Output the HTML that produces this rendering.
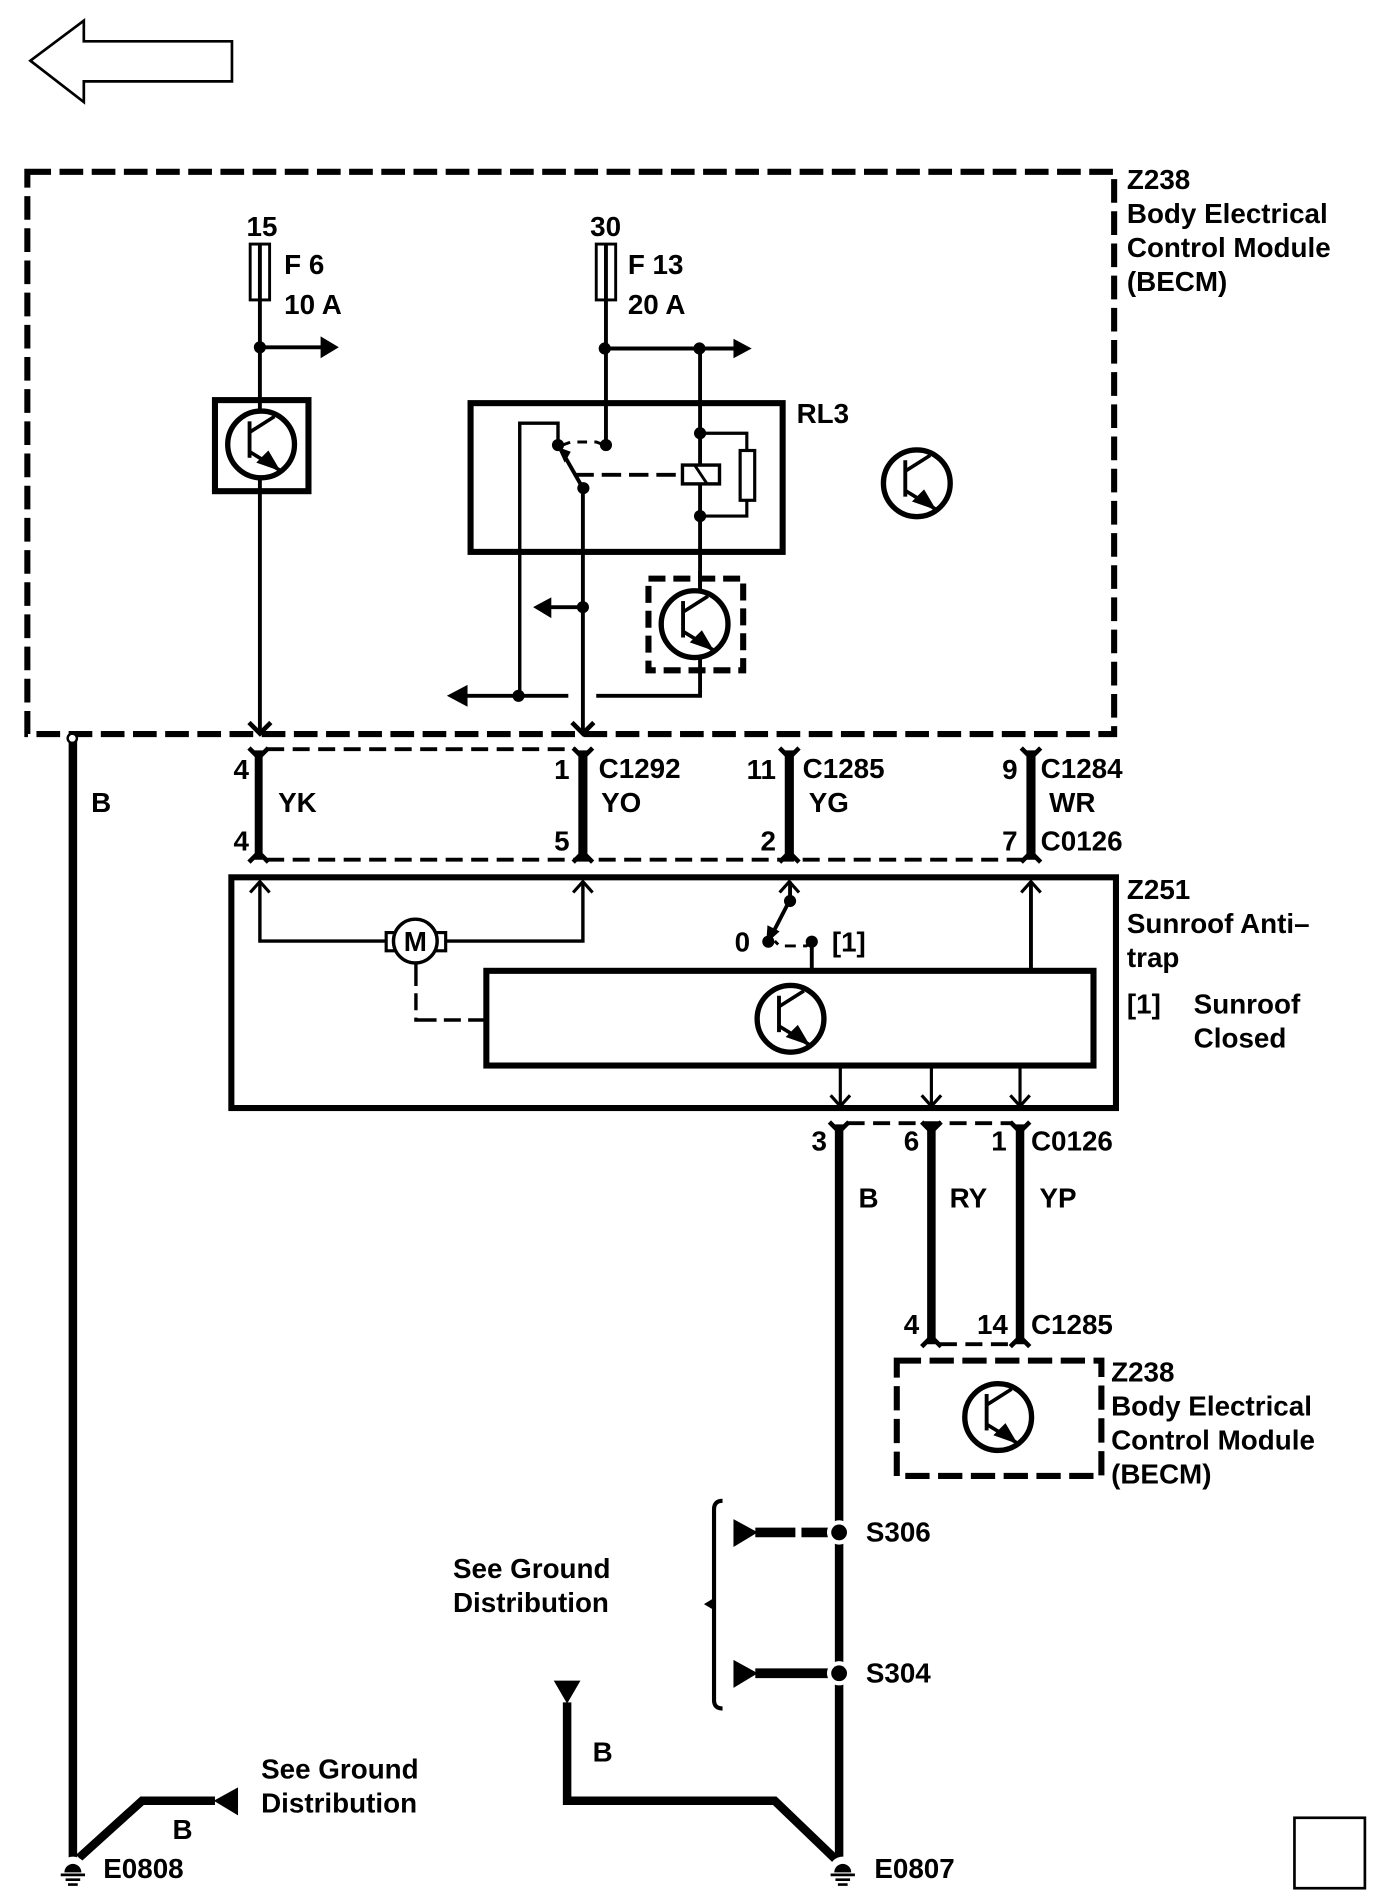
<!DOCTYPE html>
<html>
<head>
<meta charset="utf-8">
<style>
html,body{margin:0;padding:0;background:#fff}
svg{display:block}
text{font-family:"Liberation Sans",sans-serif;font-weight:bold;font-size:22.9px;fill:#000}
.e{text-anchor:end}
.w{fill:none;stroke:#000;stroke-width:3.2}
.n{fill:none;stroke:#000;stroke-width:2.4}
.b{fill:none;stroke:#000;stroke-width:5}
.h{fill:none;stroke:#000;stroke-width:7}
.f{fill:none;stroke:#000;stroke-width:3.8;stroke-linejoin:miter}
</style>
</head>
<body>
<svg width="1392" height="1904" viewBox="0 0 1146.3 1568" xmlns="http://www.w3.org/2000/svg">
<defs>
<g id="tr">
<circle cx="0" cy="0" r="27.5" fill="#fff" stroke="#000" stroke-width="4.4"/>
<path d="M-9.5-19V11" fill="none" stroke="#000" stroke-width="3.2"/>
<path d="M-9.5-10 11-23M-9.5 6 15 21" fill="none" stroke="#000" stroke-width="3"/>
<path d="M16 22 6 5-4 15Z" fill="#000"/>
</g>
</defs>
<rect width="1146.3" height="1568" fill="#fff"/>

<!-- big arrow -->
<polygon points="25,50 69,17 69,34 191,34 191,67 69,67 69,84" fill="none" stroke="#000" stroke-width="2.2"/>

<!-- outer module -->
<rect x="22.5" y="141.5" width="895" height="463" class="b" stroke-dasharray="19.5 7"/>

<!-- fuses -->
<rect x="206" y="201" width="16" height="46" class="n"/>
<rect x="491" y="201" width="16" height="46" class="n"/>
<path d="M214 201V604M499 201V367" class="w"/>
<text x="203" y="194.500">15</text>
<text x="486" y="194.500">30</text>
<text x="234" y="225.500">F 6</text>
<text x="234" y="258.500">10 A</text>
<text x="517" y="225.500">F 13</text>
<text x="517" y="258.500">20 A</text>

<!-- f6 branch -->
<circle cx="214" cy="286" r="5"/>
<path d="M214 286H266" class="w"/>
<polygon points="264,277 279,286 264,295"/>
<rect x="177" y="329.5" width="77" height="75" class="b" fill="#fff"/>
<use href="#tr" x="215" y="366"/>

<!-- f13 branch -->
<circle cx="498" cy="287" r="5"/>
<circle cx="576" cy="287" r="5"/>
<path d="M498 287H606" class="w"/>
<polygon points="604,279 619,287 604,295"/>
<rect x="387.5" y="332" width="257" height="122.5" class="b"/>
<text x="656" y="348.500">RL3</text>

<!-- relay internals -->
<path d="M576.5 287V484" class="w"/>
<circle cx="576.5" cy="356.8" r="5"/>
<circle cx="576.5" cy="425" r="5"/>
<path d="M576.5 356.8H615V371M615 412V425H576.5" class="w" style="stroke-width:2.6"/>
<rect x="609.5" y="371" width="12" height="41" fill="#fff" stroke="#000" stroke-width="2.6"/>
<rect x="562" y="383" width="30.5" height="15.5" fill="#fff" stroke="#000" stroke-width="2.8"/>
<path d="M572 383 582 398" class="n"/>
<path d="M428 573V348.5H459.5V367" class="w" style="stroke-width:2.8"/>
<circle cx="459.5" cy="366.5" r="5"/>
<circle cx="499" cy="366.5" r="5"/>
<circle cx="480.4" cy="402" r="5"/>
<path d="M462 367 470 364H491L499 367" class="n" stroke-dasharray="8 6"/>
<path d="M460 367 480 402" class="w"/>
<polygon points="459,368 470,372 465,381"/>
<path d="M473 391H562" class="w" stroke-dasharray="16 6.5"/>
<path d="M480 402V604" class="w"/>
<circle cx="480" cy="500" r="5"/>
<path d="M480 500H450" class="w"/>
<polygon points="439,500 454,492 454,509"/>

<!-- dashed BECM sub block -->
<rect x="534" y="476.5" width="78" height="75.5" class="b" stroke-dasharray="14 6.5"/>
<path d="M576.5 470V486" class="w"/>
<use href="#tr" x="572" y="514"/>
<path d="M576.5 542V573H491" class="w"/>
<path d="M380 573H468" class="w"/>
<polygon points="368,573 385,564 385,582"/>
<circle cx="427" cy="573" r="5"/>

<use href="#tr" x="755" y="398"/>

<!-- arrows into connector -->
<path d="M205 595 214 604 223 595M471 595 480 604 489 595" class="f"/>

<!-- connector band upper -->
<path d="M220 617H473" class="n" style="stroke-width:3.2" stroke-dasharray="14 7"/>
<path d="M220 708H843" class="n" style="stroke-width:3.2" stroke-dasharray="14 7"/>
<path d="M213 618V708" stroke="#000" stroke-width="6.5" fill="none"/>
<path d="M480 618V708M650 618V708M849 618V708" stroke="#000" stroke-width="7.5" fill="none"/>
<path d="M205 616 213 624 221 616M472 616 480 624 488 616M642 616 650 624 658 616M841 616 849 624 857 616" class="f"/>
<path d="M205 710 213 702 221 710M472 710 480 702 488 710M642 710 650 702 658 710M841 710 849 702 857 710" class="f"/>

<text x="205" y="641.500" class="e">4</text>
<text x="205" y="700.500" class="e">4</text>
<text x="469" y="641.500" class="e">1</text>
<text x="469" y="700.500" class="e">5</text>
<text x="639" y="641.500" class="e">11</text>
<text x="639" y="700.500" class="e">2</text>
<text x="838" y="641.500" class="e">9</text>
<text x="838" y="700.500" class="e">7</text>
<text x="493" y="640.500">C1292</text>
<text x="661" y="640.500">C1285</text>
<text x="857" y="640.500">C1284</text>
<text x="857" y="700.500">C0126</text>
<text x="229" y="668.500">YK</text>
<text x="495" y="668.500">YO</text>
<text x="666" y="668.500">YG</text>
<text x="864" y="668.500">WR</text>
<text x="75" y="668.500">B</text>

<!-- left ground wire -->
<path d="M60 606V1530" class="h"/>
<circle cx="59.500" cy="608" r="3.800" fill="#fff" stroke="#000" stroke-width="2"/>

<!-- Z238 label -->
<text x="928" y="155.500">Z238</text>
<text x="928" y="183.500">Body Electrical</text>
<text x="928" y="211.500">Control Module</text>
<text x="928" y="239.500">(BECM)</text>

<!-- Z251 -->
<rect x="190.500" y="722.500" width="728.500" height="190" class="b"/>
<text x="928" y="740.500">Z251</text>
<text x="928" y="768.500">Sunroof Anti–</text>
<text x="928" y="796.500">trap</text>
<text x="928" y="834.500">[1]</text>
<text x="983" y="834.500">Sunroof</text>
<text x="983" y="862.500">Closed</text>

<!-- motor -->
<path d="M214 726V775H318M367 775H480V726" class="w" style="stroke-width:2.8"/>
<path d="M206 735 214 726 222 735M472 735 480 726 488 735M642 735 650 726 658 735M841 735 849 726 857 735" class="f" style="stroke-width:2.6"/>
<rect x="318" y="768" width="8" height="15" fill="#fff" stroke="#000" stroke-width="2.6"/>
<rect x="359" y="768" width="8" height="15" fill="#fff" stroke="#000" stroke-width="2.6"/>
<circle cx="342" cy="775" r="18" fill="#fff" stroke="#000" stroke-width="2.8"/>
<text x="342" y="783" style="text-anchor:middle">M</text>
<path d="M342.500 793V840H400" class="w" style="stroke-width:2.8" stroke-dasharray="19 6 14 6"/>

<!-- switch -->
<path d="M650.600 726V742" class="w"/>
<circle cx="650.600" cy="742" r="5"/>
<circle cx="632.700" cy="775.500" r="5"/>
<circle cx="668.500" cy="775.500" r="5"/>
<path d="M650 742 633 775" class="w"/>
<polygon points="631,777 632,762 642,767"/>
<path d="M638 775 642 779H664L668 776" class="n" stroke-dasharray="4 6 9 6"/>
<path d="M668.500 776V799" class="w"/>
<path d="M849 726V799" class="w"/>
<text x="605" y="783.500">0</text>
<text x="685" y="783.500">[1]</text>

<!-- inner module -->
<rect x="400.500" y="799.500" width="500" height="78" class="b"/>
<use href="#tr" x="651" y="839"/>
<path d="M692 878V911M767 878V911M840 878V911" class="w" style="stroke-width:2.6"/>
<path d="M684 902 692 911 700 902M759 902 767 911 775 902M832 902 840 911 848 902" class="f" style="stroke-width:2.6"/>

<!-- lower connector -->
<path d="M698 925H833" class="n" style="stroke-width:3.2" stroke-dasharray="14 7"/>
<path d="M774 1107H833" class="n" style="stroke-width:3.2" stroke-dasharray="14 7"/>
<path d="M691 926V1530" class="h"/>
<path d="M767 926V1107M840 926V1107" class="h"/>
<path d="M683 924 691 932 699 924M759 924 767 932 775 924M832 924 840 932 848 924" class="f"/>
<path d="M759 1109 767 1101 775 1109M832 1109 840 1101 848 1109" class="f"/>
<text x="681" y="947.500" class="e">3</text>
<text x="757" y="947.500" class="e">6</text>
<text x="829" y="947.500" class="e">1</text>
<text x="849" y="947.500">C0126</text>
<text x="707" y="994.500">B</text>
<text x="782" y="994.500">RY</text>
<text x="856" y="994.500">YP</text>
<text x="757" y="1098.500" class="e">4</text>
<text x="830" y="1098.500" class="e">14</text>
<text x="849" y="1098.500">C1285</text>

<!-- lower BECM -->
<rect x="738.500" y="1120.500" width="168.500" height="95" class="b" stroke-dasharray="20 7"/>
<use href="#tr" x="822" y="1167"/>
<text x="915" y="1137.500">Z238</text>
<text x="915" y="1165.500">Body Electrical</text>
<text x="915" y="1193.500">Control Module</text>
<text x="915" y="1221.500">(BECM)</text>

<!-- splices -->
<path d="M595 1236Q588 1236 588 1243V1400Q588 1407 595 1407M588 1318 583 1321 588 1324" fill="none" stroke="#000" stroke-width="3.4"/>
<polygon points="604,1251 604,1274 624,1262"/>
<polygon points="604,1367 604,1390 624,1378"/>
<path d="M622 1262H655M660 1262H686" stroke="#000" stroke-width="8" fill="none"/>
<path d="M622 1378H686" stroke="#000" stroke-width="8" fill="none"/>
<circle cx="691" cy="1262" r="10" fill="#fff"/>
<circle cx="691" cy="1378" r="10" fill="#fff"/>
<circle cx="691" cy="1262" r="6.500"/>
<circle cx="691" cy="1378" r="6.500"/>
<text x="713" y="1269.500">S306</text>
<text x="713" y="1385.500">S304</text>
<text x="373" y="1299.500">See Ground</text>
<text x="373" y="1327.500">Distribution</text>

<!-- E0807 path -->
<polygon points="456,1384 478,1384 467,1403"/>
<path d="M467 1402V1483H638L690 1533" class="h"/>
<text x="488" y="1450.500">B</text>
<circle cx="694" cy="1540" r="11" fill="#fff"/>
<path d="M687 1542A7 7 0 0 1 701 1542Z"/>
<path d="M684 1544H704M688 1548H700M690 1552H698" stroke="#000" stroke-width="2.2" fill="none"/>
<text x="720" y="1546.500">E0807</text>

<!-- E0808 path -->
<path d="M65 1530 117 1483H177" class="h"/>
<polygon points="176,1483 196,1472 196,1495"/>
<text x="215" y="1464.500">See Ground</text>
<text x="215" y="1492.500">Distribution</text>
<text x="142" y="1514.500">B</text>
<circle cx="60" cy="1540" r="11" fill="#fff"/>
<path d="M53 1542A7 7 0 0 1 67 1542Z"/>
<path d="M50 1544H70M54 1548H66M56 1552H64" stroke="#000" stroke-width="2.2" fill="none"/>
<text x="85" y="1546.500">E0808</text>

<rect x="1066" y="1497" width="58" height="58" fill="none" stroke="#000" stroke-width="2.2"/>
</svg>
</body>
</html>
